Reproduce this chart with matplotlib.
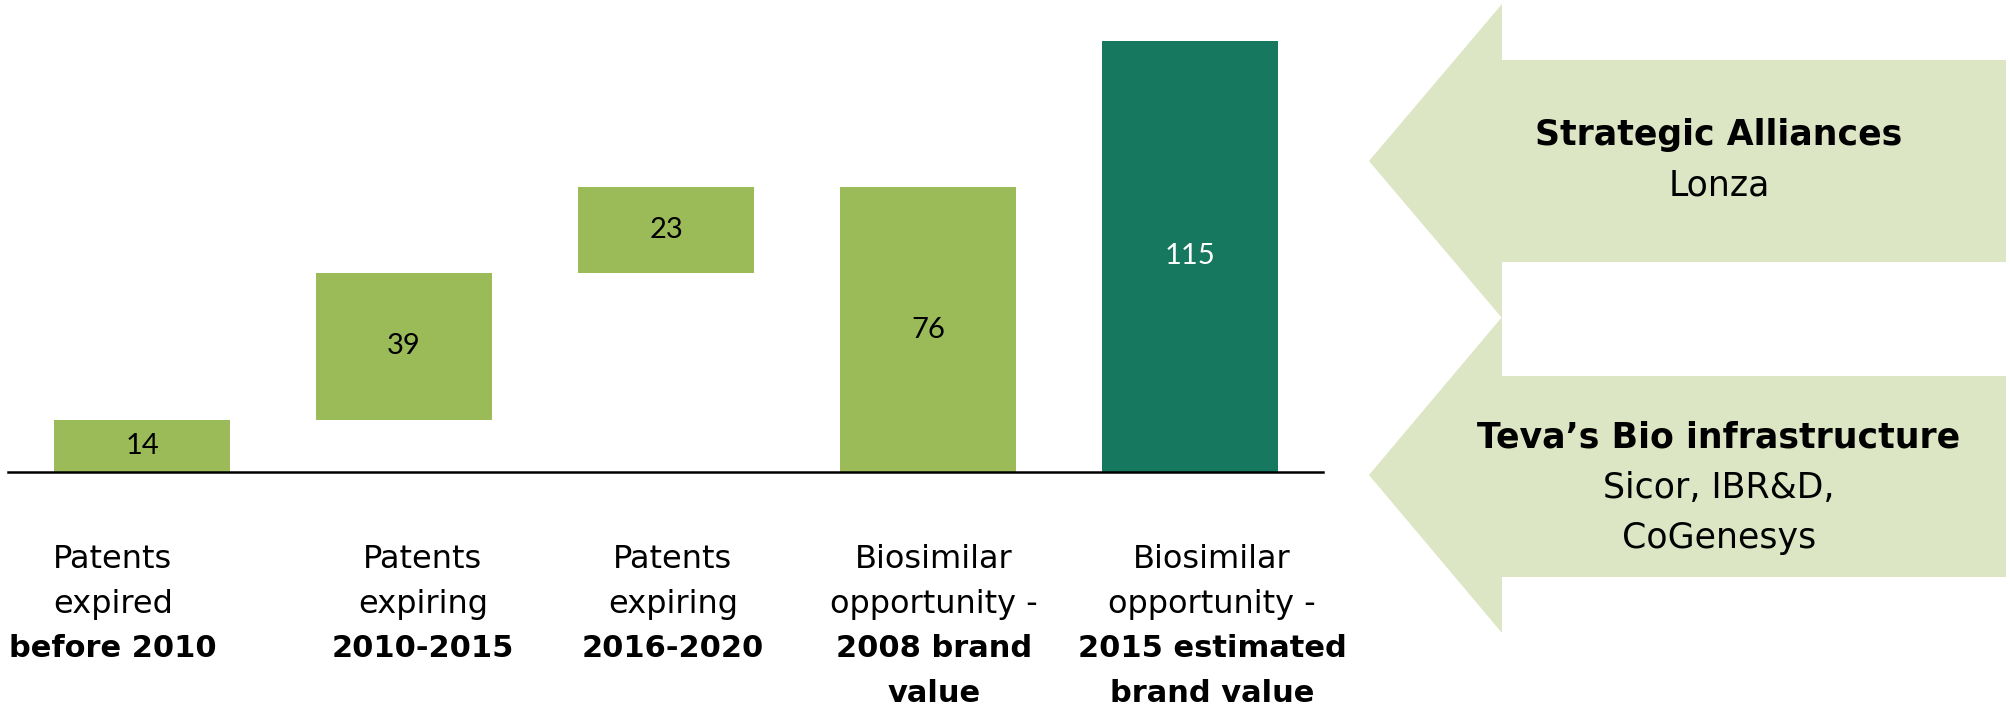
import matplotlib
matplotlib.use("Agg")
import matplotlib.pyplot as plt
from matplotlib.patches import Polygon

# ---------------- data ----------------
values = [14, 39, 23, 76, 115]
kinds = ["step", "step", "step", "total", "total"]
cat_plain = [["Patents", "expired"], ["Patents", "expiring"], ["Patents", "expiring"],
             ["Biosimilar", "opportunity -"], ["Biosimilar", "opportunity -"]]
cat_bold = [["before 2010"], ["2010-2015"], ["2016-2020"],
            ["2008 brand", "value"], ["2015 estimated", "brand value"]]
arrow_titles = ["Strategic Alliances", "Teva\u2019s Bio infrastructure"]
arrow_details = [["Lonza"], ["Sicor, IBR&D,", "CoGenesys"]]

# ---------------- style ----------------
LIGHT = "#9BBB59"
DARK = "#16785F"
ARROW = "#DCE6C4"
bar_colors = [LIGHT, LIGHT, LIGHT, LIGHT, DARK]
val_colors = ["black", "black", "black", "black", "white"]

W, H = 2015, 705
fig = plt.figure(figsize=(W / 100, H / 100), dpi=100)

# overlay in pixel coordinates for decorations / text
ov = fig.add_axes([0, 0, 1, 1], zorder=0)
ov.set_xlim(0, W)
ov.set_ylim(H, 0)
ov.axis("off")

# bar axes
y0_px = 472.0
px_per_unit = 3.748
left_px, right_px = 8.0, 1323.0
c0_px, step_px = 142.0, 262.1
ax = fig.add_axes([left_px / W, (H - y0_px) / H, (right_px - left_px) / W, y0_px / H], zorder=1)
ax.patch.set_alpha(0)
ax.set_xlim(-(c0_px - left_px) / step_px, (right_px - c0_px) / step_px)
ax.set_ylim(0, y0_px / px_per_unit)

bottoms = []
run = 0
for v, k in zip(values, kinds):
    if k == "step":
        bottoms.append(run)
        run += v
    else:
        bottoms.append(0)
xs = list(range(len(values)))
bar_w = 176 / step_px
ax.bar(xs, values, bottom=bottoms, width=bar_w, color=bar_colors, linewidth=0)
for x, v, b, c in zip(xs, values, bottoms, val_colors):
    ax.text(x, b + v / 2, str(v), ha="center", va="center", color=c,
            fontsize=21, family="Lato")

for s in ["top", "right", "left"]:
    ax.spines[s].set_visible(False)
ax.spines["bottom"].set_linewidth(1.8)
ax.spines["bottom"].set_color("black")
ax.set_xticks([])
ax.set_yticks([])

# category labels
label_cx = [113, 423, 673, 934, 1212]
baselines = [568, 612.5, 657, 701.5]
for cx, plain, bold in zip(label_cx, cat_plain, cat_bold):
    i = 0
    for t in plain:
        ov.text(cx, baselines[i], t, ha="center", va="baseline", fontsize=23,
                family="DejaVu Sans", color="black")
        i += 1
    for t in bold:
        ov.text(cx, baselines[i], t, ha="center", va="baseline", fontsize=22,
                family="DejaVu Sans", weight="bold", color="black")
        i += 1

# arrows
tip_x, base_x, end_x = 1369, 1502, 2006
arrow_geo = [(4, 60, 262, 318), (317, 376, 577, 633)]
for (ht, st, sb, hb) in arrow_geo:
    cy = (ht + hb) / 2
    pts = [(tip_x, cy), (base_x, ht), (base_x, st), (end_x, st), (end_x, sb),
           (base_x, sb), (base_x, hb)]
    ov.add_patch(Polygon(pts, closed=True, facecolor=ARROW, edgecolor="none"))

text_cx = 1719
arrow_baselines = [[145, 195], [448, 498, 548]]
for title, details, bl in zip(arrow_titles, arrow_details, arrow_baselines):
    ov.text(text_cx, bl[0], title, ha="center", va="baseline", fontsize=25,
            family="DejaVu Sans", weight="bold", color="black")
    for t, b in zip(details, bl[1:]):
        ov.text(text_cx, b, t, ha="center", va="baseline", fontsize=25,
                family="DejaVu Sans", color="black")

fig.savefig("out.png", dpi=100)
